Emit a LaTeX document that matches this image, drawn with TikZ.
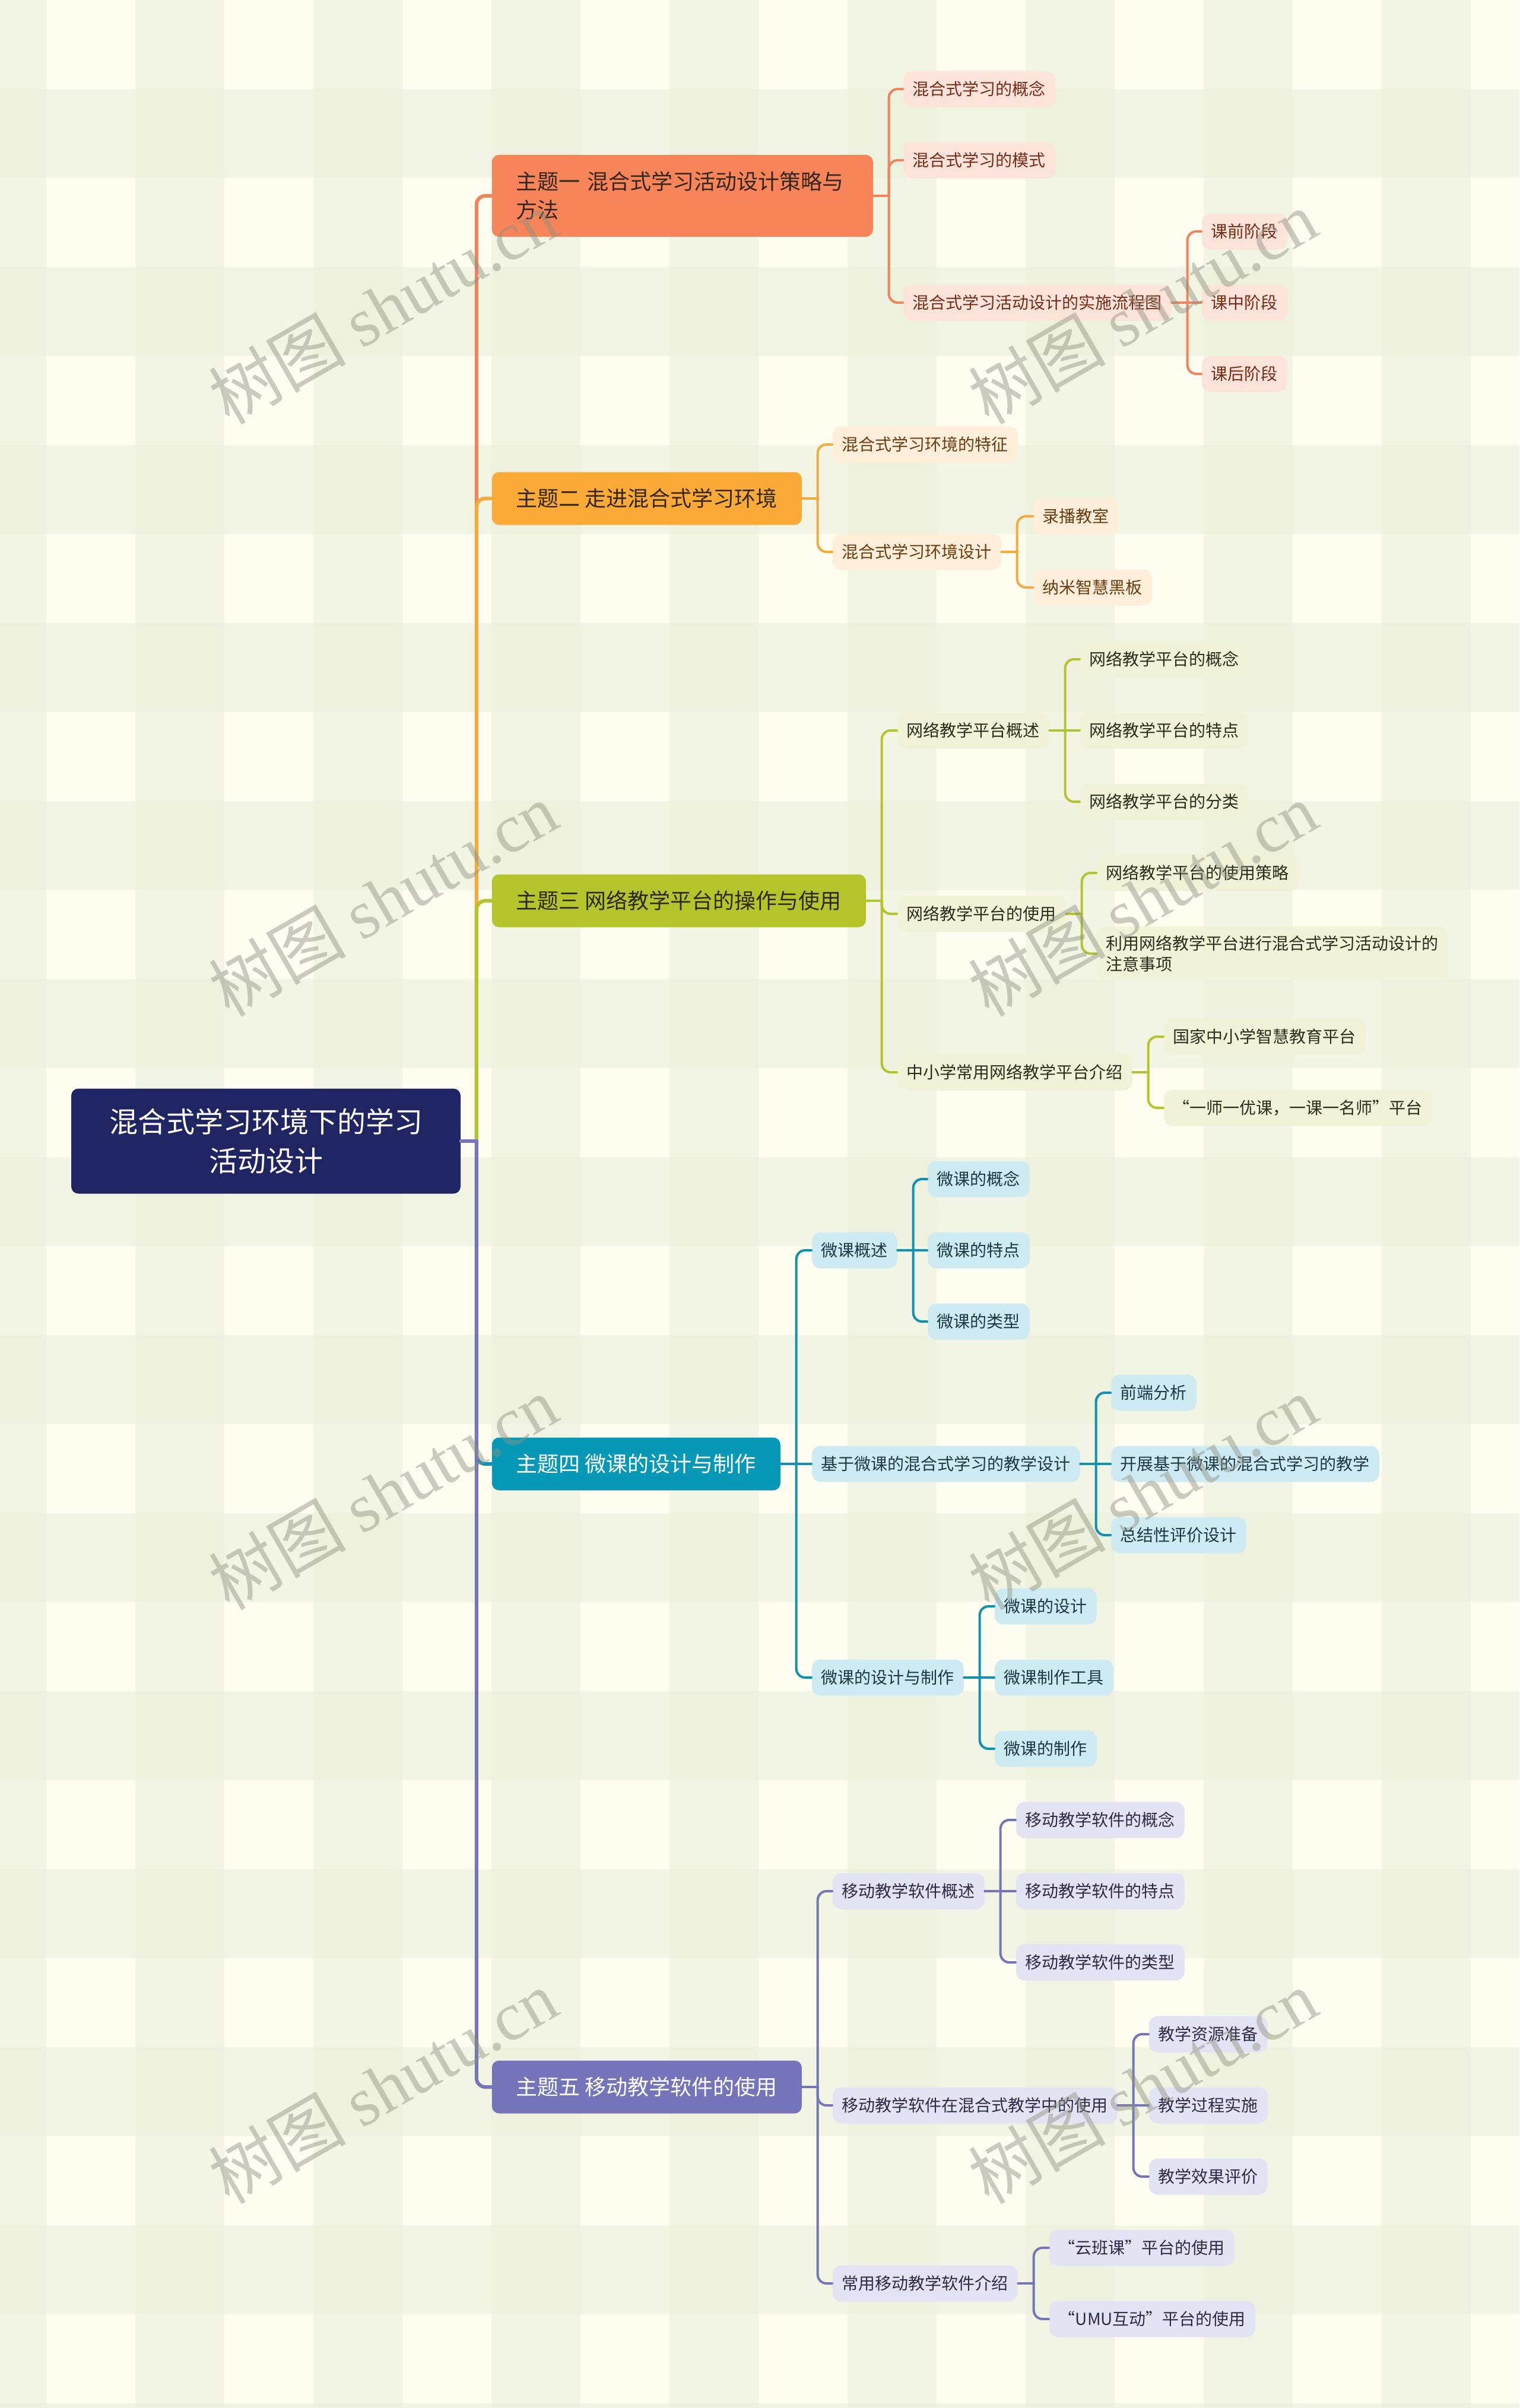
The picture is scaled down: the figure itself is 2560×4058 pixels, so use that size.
\documentclass[tikz,border=0pt]{standalone}
\usepackage{fontspec}
\setmainfont{Noto Sans CJK SC}
\newfontfamily\wmlatin{Liberation Serif}
\usetikzlibrary{positioning}
\definecolor{bgcream}{HTML}{FEFDF0}
\definecolor{bgtint}{HTML}{EAEFDA}
\definecolor{rootfill}{HTML}{1F2462}
\definecolor{wmgrey}{HTML}{8E9080}
\definecolor{atop}{HTML}{F8845A}\definecolor{ahead}{HTML}{33261C}\definecolor{aleaf}{HTML}{FDE4DA}\definecolor{aink}{HTML}{7A2A14}\definecolor{aline}{HTML}{F2845C}
\definecolor{btop}{HTML}{FBAA38}\definecolor{bhead}{HTML}{33261C}\definecolor{bleaf}{HTML}{FEEEDA}\definecolor{bink}{HTML}{6A3C10}\definecolor{bline}{HTML}{F5AA3C}
\definecolor{ctop}{HTML}{B5C42B}\definecolor{chead}{HTML}{2A2A1A}\definecolor{cleaf}{HTML}{F0F3D8}\definecolor{cink}{HTML}{2C2C1C}\definecolor{cline}{HTML}{B2C42E}
\definecolor{dtop}{HTML}{0798B8}\definecolor{dhead}{HTML}{FFFFFF}\definecolor{dleaf}{HTML}{CEEBF4}\definecolor{dink}{HTML}{1C3844}\definecolor{dline}{HTML}{0F92B2}
\definecolor{etop}{HTML}{7573BA}\definecolor{ehead}{HTML}{FFFFFF}\definecolor{eleaf}{HTML}{E4E3F3}\definecolor{eink}{HTML}{2C2C48}\definecolor{eline}{HTML}{7675B9}
\tikzset{
	rootbox/.style={fill=rootfill,text=white,rounded corners=3pt,align=center,minimum width=164pt,minimum height=44.25pt,font=\fontsize{12pt}{16.5pt}\selectfont},
	topic/.style={anchor=west,fill=#1top,text=#1head,rounded corners=3pt,inner xsep=10.25pt,inner ysep=0pt,minimum height=22.25pt,align=left,font=\fontsize{9pt}{12pt}\selectfont},
	leaf/.style={anchor=west,fill=#1leaf,text=#1ink,rounded corners=3.75pt,inner xsep=4pt,inner ysep=3.75pt,minimum height=15.25pt,align=left,font=\fontsize{7pt}{8.75pt}\selectfont},
	wire/.style={draw=#1line,line width=1pt,line cap=round},
	trunk/.style={wire=#1,line width=1.5pt},
	wmark/.style={rotate=30,text=wmgrey,text opacity=.45,font=\fontsize{29pt}{29pt}\selectfont}
}
\newcommand\mmlink[3]{%
	\draw[#1] (#2.east) -- ++(6.5pt,0) coordinate (jn);
	\draw[#1,rounded corners=3.75pt] (jn) |- (#3.west);}
\newcommand\mmflat[3]{\draw[#1] (#2.east) -- (#3.west);}
\begin{document}
\begin{tikzpicture}[x=0.25pt,y=-0.25pt]
	\useasboundingbox (0,0) rectangle (2560,4058);
	\fill[bgcream] (0,0) rectangle (2560,4058);
	\foreach \x in {-72,228,...,2328} \fill[bgtint,opacity=.5] (\x,0) rectangle ++(150,4058);
	\foreach \y in {150,450,...,4050} \fill[bgtint,opacity=.5] (0,\y) rectangle ++(2560,150);

	\node[rootbox] (root) at (448,1923) {混合式学习环境下的学习\\活动设计};
	\node[topic=a,minimum height=34.5pt,text width=140pt] (t1) at (828,330) {主题一 混合式学习活动设计策略与\\方法};
	\node[topic=b] (t2) at (828,840) {主题二 走进混合式学习环境};
	\node[topic=c] (t3) at (828,1518) {主题三 网络教学平台的操作与使用};
	\node[topic=d] (t4) at (828,2467) {主题四 微课的设计与制作};
	\node[topic=e] (t5) at (828,3517) {主题五 移动教学软件的使用};

	\node[leaf=a] (a1) at (1521,150) {混合式学习的概念};
	\node[leaf=a] (a2) at (1521,270) {混合式学习的模式};
	\node[leaf=a] (a3) at (1521,510) {混合式学习活动设计的实施流程图};
	\node[leaf=a] (a31) at (2024,390) {课前阶段};
	\node[leaf=a] (a32) at (2024,510) {课中阶段};
	\node[leaf=a] (a33) at (2024,630) {课后阶段};

	\node[leaf=b] (b1) at (1402,749) {混合式学习环境的特征};
	\node[leaf=b] (b2) at (1402,930) {混合式学习环境设计};
	\node[leaf=b] (b21) at (1740,870) {录播教室};
	\node[leaf=b] (b22) at (1740,990) {纳米智慧黑板};

	\node[leaf=c] (c1) at (1511,1231) {网络教学平台概述};
	\node[leaf=c] (c2) at (1511,1540) {网络教学平台的使用};
	\node[leaf=c] (c3) at (1511,1807) {中小学常用网络教学平台介绍};
	\node[leaf=c] (c11) at (1819,1111) {网络教学平台的概念};
	\node[leaf=c] (c12) at (1819,1231) {网络教学平台的特点};
	\node[leaf=c] (c13) at (1819,1351) {网络教学平台的分类};
	\node[leaf=c] (c21) at (1847,1471) {网络教学平台的使用策略};
	\node[leaf=c] (c22) at (1847,1607) {利用网络教学平台进行混合式学习活动设计的\\注意事项};
	\node[leaf=c] (c31) at (1960,1747) {国家中小学智慧教育平台};
	\node[leaf=c] (c32) at (1960,1867) {“一师一优课，一课一名师”平台};

	\node[leaf=d] (d1) at (1367,2107) {微课概述};
	\node[leaf=d] (d2) at (1367,2467) {基于微课的混合式学习的教学设计};
	\node[leaf=d] (d3) at (1367,2827) {微课的设计与制作};
	\node[leaf=d] (d11) at (1562,1987) {微课的概念};
	\node[leaf=d] (d12) at (1562,2107) {微课的特点};
	\node[leaf=d] (d13) at (1562,2227) {微课的类型};
	\node[leaf=d] (d21) at (1871,2347) {前端分析};
	\node[leaf=d] (d22) at (1871,2467) {开展基于微课的混合式学习的教学};
	\node[leaf=d] (d23) at (1871,2587) {总结性评价设计};
	\node[leaf=d] (d31) at (1675,2707) {微课的设计};
	\node[leaf=d] (d32) at (1675,2827) {微课制作工具};
	\node[leaf=d] (d33) at (1675,2947) {微课的制作};

	\node[leaf=e] (e1) at (1402,3187) {移动教学软件概述};
	\node[leaf=e] (e2) at (1402,3548) {移动教学软件在混合式教学中的使用};
	\node[leaf=e] (e3) at (1402,3848) {常用移动教学软件介绍};
	\node[leaf=e] (e11) at (1711,3067) {移动教学软件的概念};
	\node[leaf=e] (e12) at (1711,3187) {移动教学软件的特点};
	\node[leaf=e] (e13) at (1711,3307) {移动教学软件的类型};
	\node[leaf=e] (e21) at (1935,3428) {教学资源准备};
	\node[leaf=e] (e22) at (1935,3548) {教学过程实施};
	\node[leaf=e] (e23) at (1935,3668) {教学效果评价};
	\node[leaf=e] (e31) at (1767,3788) {“云班课”平台的使用};
	\node[leaf=e] (e32) at (1767,3908) {“UMU互动”平台的使用};

	\mmlink{trunk=a}{root}{t1}
	\mmlink{trunk=b}{root}{t2}
	\mmlink{trunk=c}{root}{t3}
	\mmlink{trunk=d}{root}{t4}
	\mmlink{trunk=e}{root}{t5}

	\foreach \c in {a1,a2,a3} {\mmlink{wire=a}{t1}{\c}}
	\mmlink{wire=a}{a3}{a31} \mmflat{wire=a}{a3}{a32} \mmlink{wire=a}{a3}{a33}
	\foreach \c in {b1,b2} {\mmlink{wire=b}{t2}{\c}}
	\foreach \c in {b21,b22} {\mmlink{wire=b}{b2}{\c}}
	\foreach \c in {c1,c2,c3} {\mmlink{wire=c}{t3}{\c}}
	\mmlink{wire=c}{c1}{c11} \mmflat{wire=c}{c1}{c12} \mmlink{wire=c}{c1}{c13}
	\foreach \c in {c21,c22} {\mmlink{wire=c}{c2}{\c}}
	\foreach \c in {c31,c32} {\mmlink{wire=c}{c3}{\c}}
	\mmlink{wire=d}{t4}{d1} \mmflat{wire=d}{t4}{d2} \mmlink{wire=d}{t4}{d3}
	\mmlink{wire=d}{d1}{d11} \mmflat{wire=d}{d1}{d12} \mmlink{wire=d}{d1}{d13}
	\mmlink{wire=d}{d2}{d21} \mmflat{wire=d}{d2}{d22} \mmlink{wire=d}{d2}{d23}
	\mmlink{wire=d}{d3}{d31} \mmflat{wire=d}{d3}{d32} \mmlink{wire=d}{d3}{d33}
	\foreach \c in {e1,e2,e3} {\mmlink{wire=e}{t5}{\c}}
	\mmlink{wire=e}{e1}{e11} \mmflat{wire=e}{e1}{e12} \mmlink{wire=e}{e1}{e13}
	\mmlink{wire=e}{e2}{e21} \mmflat{wire=e}{e2}{e22} \mmlink{wire=e}{e2}{e23}
	\foreach \c in {e31,e32} {\mmlink{wire=e}{e3}{\c}}

	\foreach \wx in {645,1925} \foreach \wy in {517,1515,2515,3516}
		\node[wmark] (wm-\wx-\wy) at (\wx,\wy) {树图 {\wmlatin shutu.cn}};
\end{tikzpicture}
\end{document}
